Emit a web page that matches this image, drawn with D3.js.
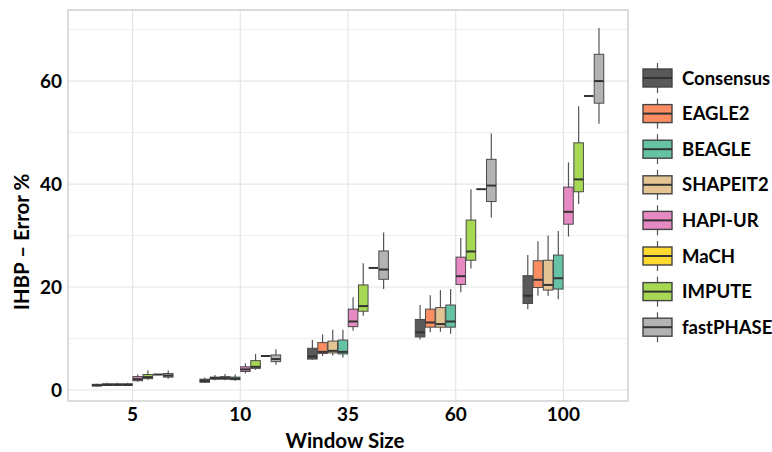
<!DOCTYPE html>
<html>
<head>
<meta charset="utf-8">
<script src="https://cdn.jsdelivr.net/npm/d3@7"></script>
<style>
  body { margin: 0; background: #fff; }
  text { font-family: Lato, "Open Sans", sans-serif; font-weight: 700; fill: #000; }
</style>
</head>
<body>
<div id="chart"></div>
<script>
var W = 772, H = 452;
var m = {t:10, r:144, b:51, l:68};

// window sizes on the x axis
var windows = ["5","10","35","60","100"];

// order of the boxes inside each group (as drawn)
var slotOrder = ["Consensus","EAGLE2","SHAPEIT2","BEAGLE","HAPI-UR","IMPUTE","MaCH","fastPHASE"];
// order of the legend
var legendOrder = ["Consensus","EAGLE2","BEAGLE","SHAPEIT2","HAPI-UR","MaCH","IMPUTE","fastPHASE"];

var colors = {
  "Consensus":"#595959", "EAGLE2":"#fc8d62", "BEAGLE":"#66c2a5", "SHAPEIT2":"#e5c494",
  "HAPI-UR":"#e78ac3", "MaCH":"#ffd92f", "IMPUTE":"#a6d854", "fastPHASE":"#b3b3b3"
};

// [min, q1, median, q3, max] per window size
var consensus = [[0.7,0.8,0.9,1.1,1.2],[1.4,1.5,1.8,2.1,2.4],[5.9,6.0,6.5,8.1,9.7],[9.8,10.3,11.2,13.7,16.5],[15.7,16.8,18.3,22.2,26.2]];
var eagle2    = [[0.8,0.9,1.0,1.2,1.4],[1.9,2.1,2.3,2.5,2.9],[6.6,7.1,7.4,9.2,10.8],[11.2,12.2,13.1,15.7,18.4],[18.3,19.9,21.4,25.1,28.9]];
var shapeit2  = [[0.8,0.9,1.0,1.2,1.4],[1.9,2.1,2.3,2.6,3.1],[6.7,7.2,7.6,9.5,11.7],[11.3,12.2,12.8,16.0,19.4],[18.3,19.4,20.4,25.2,30.0]];
var beagle    = [[0.8,0.9,1.0,1.2,1.4],[1.8,2.0,2.2,2.5,3.0],[6.3,7.0,7.4,9.7,11.7],[10.9,12.2,13.3,16.5,19.6],[17.6,19.6,21.7,26.2,30.9]];
var hapiur    = [[1.6,1.8,2.1,2.6,3.0],[3.2,3.6,4.0,4.5,5.2],[11.5,12.3,13.3,15.7,18.0],[19.0,20.5,22.1,25.8,29.5],[29.8,32.2,34.6,39.4,44.2]];
var impute    = [[2.0,2.2,2.5,3.0,3.8],[3.9,4.2,4.5,5.7,7.0],[14.4,15.3,16.3,20.4,24.6],[23.6,25.2,26.9,33.0,39.0],[36.1,38.5,40.9,48.0,55.1]];
var mach      = [[3.0,3.0,3.0,3.0,3.0],[6.6,6.6,6.6,6.6,6.6],[23.7,23.7,23.7,23.7,23.7],[39.0,39.0,39.0,39.0,39.0],[57.1,57.1,57.1,57.1,57.1]];
var fastphase = [[2.2,2.5,2.8,3.2,3.8],[4.9,5.5,6.0,6.8,7.9],[19.6,21.5,23.4,27.0,30.6],[33.5,36.6,39.7,44.8,49.8],[51.7,55.7,60.0,65.2,70.3]];

var stats = {
  "Consensus":consensus, "EAGLE2":eagle2, "SHAPEIT2":shapeit2, "BEAGLE":beagle,
  "HAPI-UR":hapiur, "IMPUTE":impute, "MaCH":mach, "fastPHASE":fastphase
};

var yTicks = [0,20,40,60];
var yMinor = [10,30,50,70];

var boxes = [];
windows.forEach(function(w, i){
  slotOrder.forEach(function(k){
    var s = stats[k][i];
    boxes.push({win:w, key:k, min:s[0], q1:s[1], med:s[2], q3:s[3], max:s[4]});
  });
});

var svg = d3.select("#chart").append("svg")
  .attr("width", W).attr("height", H);

var pw = W - m.l - m.r, ph = H - m.t - m.b;

var x = d3.scalePoint().domain(windows).range([m.l, m.l + pw]).padding(0.6);
var slot = d3.scaleBand().domain(slotOrder)
  .range([-x.step()*0.375, x.step()*0.375]).paddingInner(0.06);
var y = d3.scaleLinear().domain([-2.14, 73.8]).range([m.t + ph, m.t]);

// grid
var g = svg.append("g");
g.selectAll(".minor").data(yMinor).enter().append("line")
  .attr("x1", m.l).attr("x2", m.l + pw)
  .attr("y1", function(d){ return y(d); }).attr("y2", function(d){ return y(d); })
  .attr("stroke", "#efefef").attr("stroke-width", 1);
g.selectAll(".major").data(yTicks).enter().append("line")
  .attr("x1", m.l).attr("x2", m.l + pw)
  .attr("y1", function(d){ return y(d); }).attr("y2", function(d){ return y(d); })
  .attr("stroke", "#e6e6e6").attr("stroke-width", 1.2);
g.selectAll(".vgrid").data(windows).enter().append("line")
  .attr("x1", function(d){ return x(d); }).attr("x2", function(d){ return x(d); })
  .attr("y1", m.t).attr("y2", m.t + ph)
  .attr("stroke", "#e6e6e6").attr("stroke-width", 1.2);

svg.append("rect")
  .attr("x", m.l).attr("y", m.t).attr("width", pw).attr("height", ph)
  .attr("fill", "none").attr("stroke", "#cfcfcf").attr("stroke-width", 1.5);

// boxes
var bw = slot.bandwidth();
var bx = svg.append("g").selectAll(".box").data(boxes).enter().append("g")
  .attr("transform", function(d){ return "translate(" + (x(d.win) + slot(d.key)) + ",0)"; });

bx.append("line")
  .attr("x1", bw/2).attr("x2", bw/2)
  .attr("y1", function(d){ return y(d.max); }).attr("y2", function(d){ return y(d.min); })
  .attr("stroke", "#555").attr("stroke-width", 1.2);

bx.append("rect")
  .attr("x", 0).attr("width", bw)
  .attr("y", function(d){ return y(d.q3); })
  .attr("height", function(d){ return y(d.q1) - y(d.q3); })
  .attr("fill", function(d){ return colors[d.key]; })
  .attr("stroke", "#4a4a4a").attr("stroke-width", 1);

bx.append("line")
  .attr("x1", 0).attr("x2", bw)
  .attr("y1", function(d){ return y(d.med); }).attr("y2", function(d){ return y(d.med); })
  .attr("stroke", "#333").attr("stroke-width", 2);

// axes
svg.selectAll(".ytick").data(yTicks).enter().append("text")
  .attr("x", 62).attr("y", function(d){ return y(d); })
  .attr("dy", "0.36em").attr("text-anchor", "end")
  .attr("font-size", "19px")
  .text(function(d){ return d; });

svg.selectAll(".xtick").data(windows).enter().append("text")
  .attr("x", function(d){ return x(d); }).attr("y", 414)
  .attr("dy", "0.36em").attr("text-anchor", "middle")
  .attr("font-size", "19px")
  .text(function(d){ return d; });

svg.append("text")
  .attr("x", x("35") - 3).attr("y", 441)
  .attr("dy", "0.36em").attr("text-anchor", "middle")
  .attr("font-size", "20.5px")
  .text("Window Size");

svg.append("text")
  .attr("transform", "translate(22,242) rotate(-90)")
  .attr("dy", "0.36em").attr("text-anchor", "middle")
  .attr("font-size", "20.5px")
  .text("IHBP \u2013 Error %");

// legend
var lg = svg.append("g").selectAll(".leg").data(legendOrder).enter().append("g")
  .attr("transform", function(d, i){ return "translate(643," + (78 + i*35.6) + ")"; });

lg.append("line")
  .attr("x1", 14.5).attr("x2", 14.5).attr("y1", -15).attr("y2", 15)
  .attr("stroke", "#555").attr("stroke-width", 1.2);
lg.append("rect")
  .attr("x", 0).attr("y", -9).attr("width", 29).attr("height", 18)
  .attr("fill", function(d){ return colors[d]; })
  .attr("stroke", "#444").attr("stroke-width", 1.4);
lg.append("line")
  .attr("x1", 0).attr("x2", 29).attr("y1", 0).attr("y2", 0)
  .attr("stroke", "#333").attr("stroke-width", 2);
lg.append("text")
  .attr("x", 39).attr("y", 0).attr("dy", "0.36em")
  .attr("font-size", "18.5px")
  .text(function(d){ return d; });
</script>
</body>
</html>
